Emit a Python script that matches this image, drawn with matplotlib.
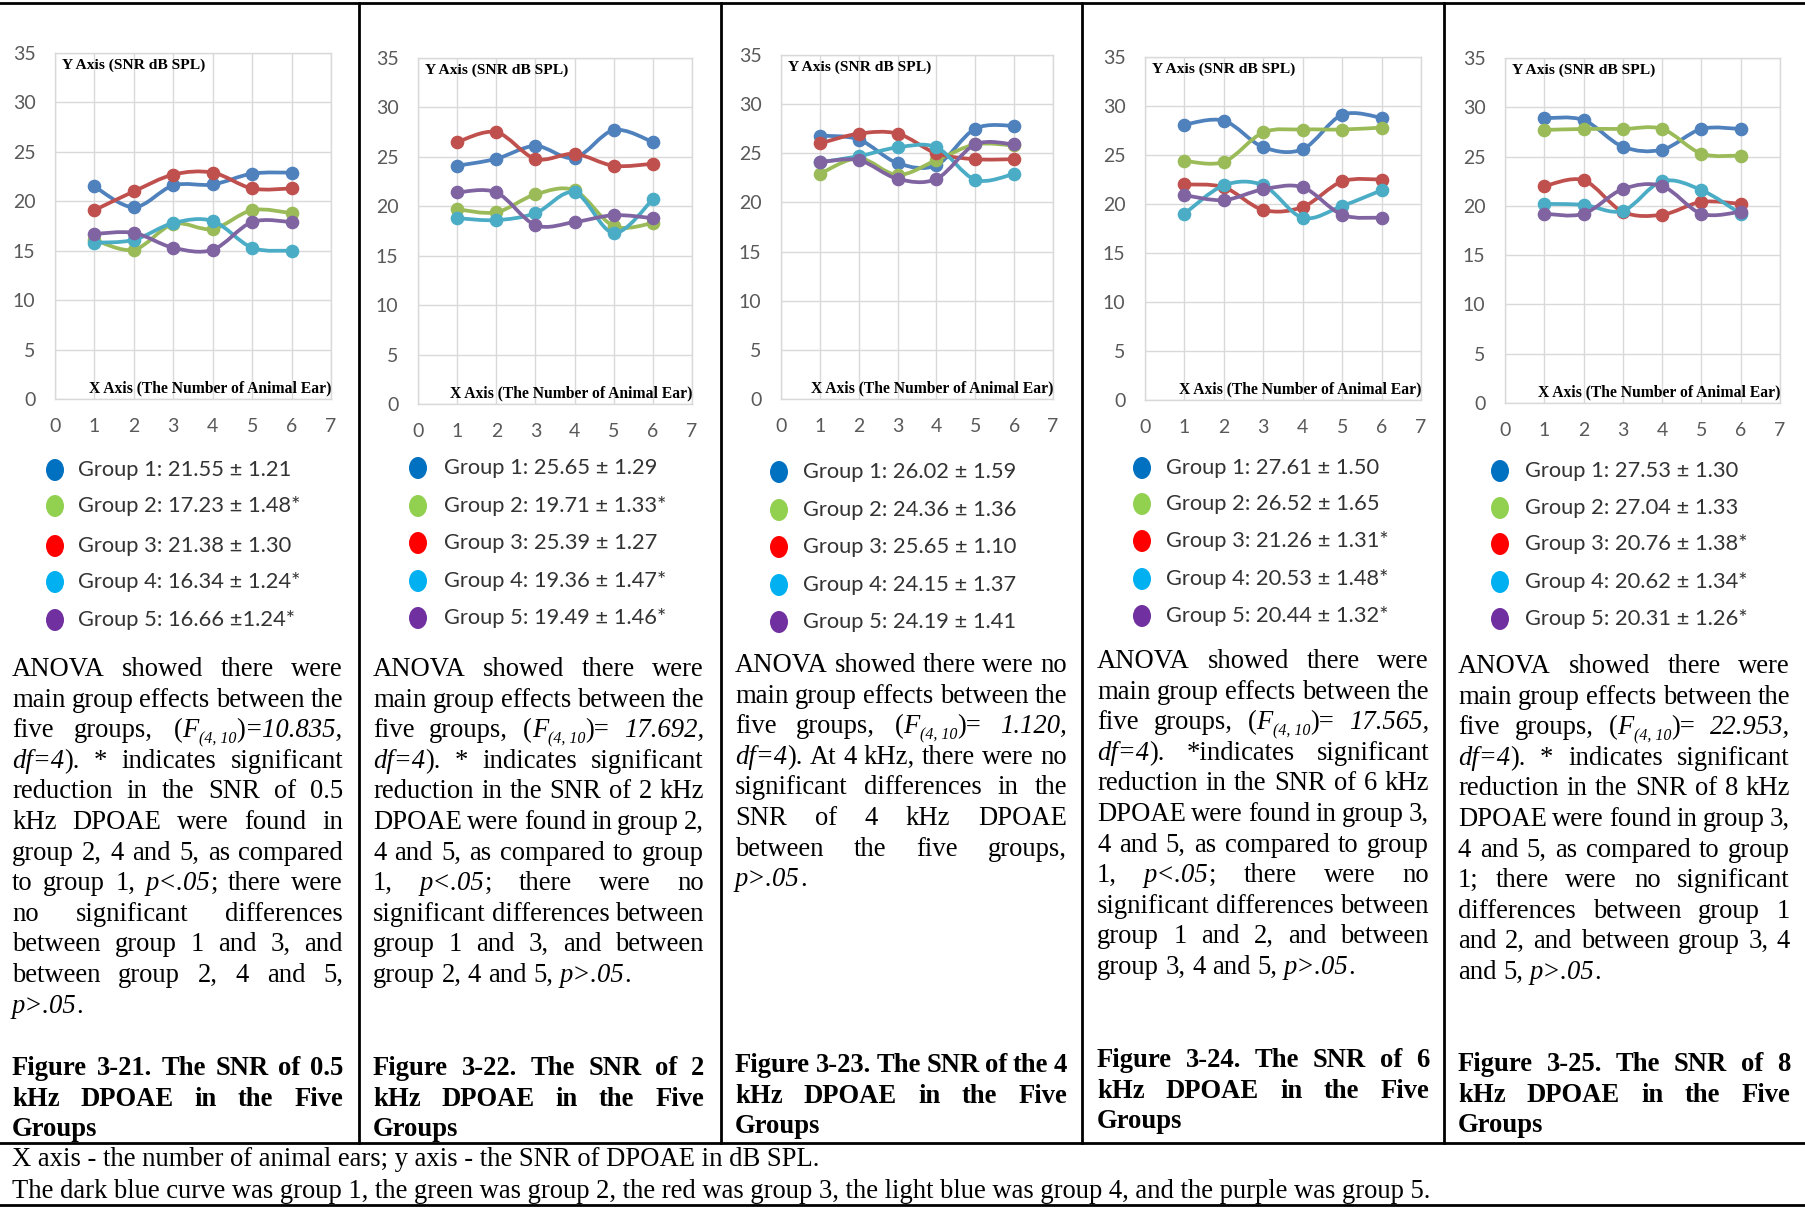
import matplotlib
matplotlib.use('Agg')
import matplotlib.pyplot as plt
from matplotlib.patches import Ellipse, PathPatch
from matplotlib.path import Path
from matplotlib.lines import Line2D
import numpy as np

# ---------------- data ----------------
ears = [1, 2, 3, 4, 5, 6]
x_ticks = [0, 1, 2, 3, 4, 5, 6, 7]
y_ticks = [0, 5, 10, 15, 20, 25, 30, 35]

# 0.5 kHz
k05_g1 = [21.5, 19.4, 21.6, 21.7, 22.8, 22.9]
k05_g2 = [16.1, 15.1, 17.7, 17.2, 19.1, 18.8]
k05_g3 = [19.1, 21.0, 22.7, 22.9, 21.3, 21.3]
k05_g4 = [15.8, 16.1, 17.8, 18.0, 15.3, 15.0]
k05_g5 = [16.7, 16.8, 15.3, 15.1, 17.9, 17.9]
# 2 kHz
k2_g1 = [24.1, 24.8, 26.1, 24.9, 27.7, 26.5]
k2_g2 = [19.7, 19.4, 21.2, 21.6, 18.0, 18.3]
k2_g3 = [26.5, 27.5, 24.8, 25.3, 24.1, 24.3]
k2_g4 = [18.8, 18.6, 19.3, 21.4, 17.3, 20.7]
k2_g5 = [21.4, 21.4, 18.1, 18.4, 19.1, 18.8]
# 4 kHz
k4_g1 = [26.8, 26.4, 24.0, 23.8, 27.5, 27.8]
k4_g2 = [22.9, 24.5, 22.8, 24.3, 25.9, 25.8]
k4_g3 = [26.0, 27.0, 27.0, 25.0, 24.4, 24.4]
k4_g4 = [24.1, 24.7, 25.6, 25.6, 22.3, 22.9]
k4_g5 = [24.1, 24.3, 22.4, 22.4, 25.9, 25.9]
# 6 kHz
k6_g1 = [28.1, 28.5, 25.8, 25.6, 29.1, 28.8]
k6_g2 = [24.4, 24.3, 27.3, 27.6, 27.6, 27.8]
k6_g3 = [22.0, 21.7, 19.4, 19.7, 22.3, 22.5]
k6_g4 = [19.0, 21.9, 21.9, 18.6, 19.8, 21.4]
k6_g5 = [20.9, 20.4, 21.5, 21.7, 18.9, 18.6]
# 8 kHz
k8_g1 = [28.9, 28.7, 26.0, 25.7, 27.8, 27.8]
k8_g2 = [27.7, 27.8, 27.8, 27.8, 25.3, 25.1]
k8_g3 = [22.0, 22.6, 19.4, 19.1, 20.4, 20.2]
k8_g4 = [20.2, 20.1, 19.5, 22.5, 21.6, 19.2]
k8_g5 = [19.2, 19.2, 21.7, 22.0, 19.2, 19.4]

leg_05k = ["Group 1: 21.55 \u00b1 1.21", "Group 2: 17.23 \u00b1 1.48*", "Group 3: 21.38 \u00b1 1.30",
           "Group 4: 16.34 \u00b1 1.24*", "Group 5: 16.66 \u00b11.24*"]
leg_2k = ["Group 1: 25.65 \u00b1 1.29", "Group 2: 19.71 \u00b1 1.33*", "Group 3: 25.39 \u00b1 1.27",
          "Group 4: 19.36 \u00b1 1.47*", "Group 5: 19.49 \u00b1 1.46*"]
leg_4k = ["Group 1: 26.02 \u00b1 1.59", "Group 2: 24.36 \u00b1 1.36", "Group 3: 25.65 \u00b1 1.10",
          "Group 4: 24.15 \u00b1 1.37", "Group 5: 24.19 \u00b1 1.41"]
leg_6k = ["Group 1: 27.61 \u00b1 1.50", "Group 2: 26.52 \u00b1 1.65", "Group 3: 21.26 \u00b1 1.31*",
          "Group 4: 20.53 \u00b1 1.48*", "Group 5: 20.44 \u00b1 1.32*"]
leg_8k = ["Group 1: 27.53 \u00b1 1.30", "Group 2: 27.04 \u00b1 1.33", "Group 3: 20.76 \u00b1 1.38*",
          "Group 4: 20.62 \u00b1 1.34*", "Group 5: 20.31 \u00b1 1.26*"]

NB = "\u00a0"
txt_05k = ["ANOVA showed there were", "main group effects between the",
           "five groups, (_F_~(4," + NB + "10~)_=10.835,_", "_df=4_). * indicates significant",
           "reduction in the SNR of 0.5", "kHz DPOAE were found in", "group 2, 4 and 5, as compared",
           "to group 1, _p<.05_; there were", "no significant differences",
           "between group 1 and 3, and", "between group 2, 4 and 5,", "_p>.05_."]
txt_2k = ["ANOVA showed there were", "main group effects between the",
          "five groups, (_F_~(4," + NB + "10~)= _17.692,_", "_df=4_). * indicates significant",
          "reduction in the SNR of 2 kHz", "DPOAE were found in group 2,", "4 and 5, as compared to group",
          "1, _p<.05_; there were no", "significant differences between", "group 1 and 3, and between",
          "group 2, 4 and 5, _p>.05_."]
txt_4k = ["ANOVA showed there were no", "main group effects between the",
          "five groups, (_F_~(4," + NB + "10~)= _1.120,_", "_df=4_). At 4 kHz, there were no",
          "significant differences in the", "SNR of 4 kHz DPOAE", "between the five groups,", "_p>.05_."]
txt_6k = ["ANOVA showed there were", "main group effects between the",
          "five groups, (_F_~(4," + NB + "10~)= _17.565,_", "_df=4_). *indicates significant",
          "reduction in the SNR of 6 kHz", "DPOAE were found in group 3,", "4 and 5, as compared to group",
          "1, _p<.05_; there were no", "significant differences between", "group 1 and 2, and between",
          "group 3, 4 and 5, _p>.05_."]
txt_8k = ["ANOVA showed there were", "main group effects between the",
          "five groups, (_F_~(4," + NB + "10~)= _22.953,_", "_df=4_). * indicates significant",
          "reduction in the SNR of 8 kHz", "DPOAE were found in group 3,", "4 and 5, as compared to group",
          "1; there were no significant", "differences between group 1", "and 2, and between group 3, 4",
          "and 5, _p>.05_."]

cap_05k = ["Figure 3-21. The SNR of 0.5", "kHz DPOAE in the Five", "Groups"]
cap_2k = ["Figure 3-22. The SNR of 2", "kHz DPOAE in the Five", "Groups"]
cap_4k = ["Figure 3-23. The SNR of the 4", "kHz DPOAE in the Five", "Groups"]
cap_6k = ["Figure 3-24. The SNR of 6", "kHz DPOAE in the Five", "Groups"]
cap_8k = ["Figure 3-25. The SNR of 8", "kHz DPOAE in the Five", "Groups"]

notes = ["X axis - the number of animal ears; y axis - the SNR of DPOAE in dB SPL.",
         "The dark blue curve was group 1, the green was group 2, the red was group 3, "
         "the light blue was group 4, and the purple was group 5."]

line_colors = ['#4F81BD', '#9BBB59', '#C0504D', '#4BACC6', '#8064A2']
dot_colors = ['#0070C0', '#92D050', '#FF0000', '#00B0F0', '#7030A0']

# ---------------- layout ----------------
W, H = 1805, 1208
DPI = 100
fig = plt.figure(figsize=(W / DPI, H / DPI), dpi=DPI)
fig.patch.set_facecolor('white')
renderer = fig.canvas.get_renderer()


def fx(x):
    return x / W


def fy(y):
    return 1 - y / H


def measure(s, **kw):
    t = fig.text(0, 0, s, **kw)
    w = t.get_window_extent(renderer).width
    t.remove()
    return w


def fit_size(s, target, **kw):
    w = measure(s, fontsize=10, **kw)
    return 10 * target / w


SERIF = 'Liberation Serif'
SANS = 'Lato'

fs_body = fit_size(notes[1], 1422, family=SERIF)
fs_leg = fit_size(leg_05k[0], 214, family=SANS)
fs_ylab = fit_size("Y Axis (SNR dB SPL)", 143, family=SERIF, weight='bold')
fs_xlab = fit_size("X Axis (The Number of Animal Ear)", 243, family=SERIF, weight='bold')


def parse_word(word):
    runs = []
    cur = ''
    st = 'n'
    italic = False
    sub = False
    for ch in word:
        if ch in '_~':
            if cur:
                runs.append((cur, st))
            cur = ''
            if ch == '_':
                italic = not italic
            else:
                sub = not sub
            st = 's' if sub else ('i' if italic else 'n')
        else:
            cur += ch
    if cur:
        runs.append((cur, st))
    return runs


def run_kw(st, fs, bold):
    kw = dict(family=SERIF, fontsize=fs, color='black')
    if bold:
        kw['weight'] = 'bold'
    if st == 'i':
        kw['style'] = 'italic'
    if st == 's':
        kw['style'] = 'italic'
        kw['fontsize'] = fs * 0.6
    return kw


def word_width(runs, fs, bold):
    return sum(measure(t, **run_kw(st, fs, bold)) for t, st in runs)


def draw_line(line, x0, x1, base, fs, bold=False, justify=True):
    words = [parse_word(w) for w in line.split(' ')]
    avail = x1 - x0
    wt = 'bold' if bold else 'normal'
    space = measure('a a', family=SERIF, fontsize=fs, weight=wt) - \
        measure('aa', family=SERIF, fontsize=fs, weight=wt)
    widths = [word_width(r, fs, bold) for r in words]
    n = len(words)
    tot = sum(widths)
    if justify and n > 1:
        if tot + (n - 1) * space * 0.7 > avail:
            fs = fs * (avail - (n - 1) * space * 0.7) / tot
            widths = [word_width(r, fs, bold) for r in words]
            tot = sum(widths)
        gap = (avail - tot) / (n - 1)
    else:
        gap = space
    x = x0
    for runs, w in zip(words, widths):
        xx = x
        for t, st in runs:
            kw = run_kw(st, fs, bold)
            off = 0.22 * fs * DPI / 72 if st == 's' else 0
            fig.text(fx(xx), fy(base + off), t, ha='left', va='baseline', **kw)
            xx += measure(t, **kw)
        x += w + gap


def draw_para(lines, x0, x1, base0, step, fs, bold=False):
    for i, ln in enumerate(lines):
        draw_line(ln, x0, x1, base0 + i * step, fs, bold=bold, justify=(i < len(lines) - 1))


def smooth_path(xs, ys):
    pts = np.column_stack([xs, ys]).astype(float)
    verts = [pts[0]]
    codes = [Path.MOVETO]
    n = len(pts)
    for i in range(n - 1):
        p0 = pts[i - 1] if i > 0 else pts[i]
        p1 = pts[i]
        p2 = pts[i + 1]
        p3 = pts[i + 2] if i + 2 < n else pts[i + 1]
        verts += [p1 + (p2 - p0) / 6.0, p2 - (p3 - p1) / 6.0, p2]
        codes += [Path.CURVE4] * 3
    return Path(verts, codes)


panels = [
    dict(series=[k05_g1, k05_g2, k05_g3, k05_g4, k05_g5], legend=leg_05k, text=txt_05k, cap=cap_05k,
         ax=(55, 331, 53, 399), dotx=55, legx=78, rows=[470, 506, 546, 582, 620],
         tx=(12, 343), tb=676, cb=1075),
    dict(series=[k2_g1, k2_g2, k2_g3, k2_g4, k2_g5], legend=leg_2k, text=txt_2k, cap=cap_2k,
         ax=(418, 692, 58, 404), dotx=418, legx=444, rows=[468, 506, 543, 581, 618],
         tx=(373, 704), tb=676, cb=1075),
    dict(series=[k4_g1, k4_g2, k4_g3, k4_g4, k4_g5], legend=leg_4k, text=txt_4k, cap=cap_4k,
         ax=(781, 1053, 55, 399), dotx=779, legx=803, rows=[472, 510, 547, 585, 622],
         tx=(735, 1067), tb=672, cb=1072),
    dict(series=[k6_g1, k6_g2, k6_g3, k6_g4, k6_g5], legend=leg_6k, text=txt_6k, cap=cap_6k,
         ax=(1145, 1421, 57, 400), dotx=1142, legx=1166, rows=[468, 504, 541, 579, 616],
         tx=(1097, 1429), tb=668, cb=1067),
    dict(series=[k8_g1, k8_g2, k8_g3, k8_g4, k8_g5], legend=leg_8k, text=txt_8k, cap=cap_8k,
         ax=(1505, 1780, 58, 403), dotx=1500, legx=1525, rows=[471, 508, 544, 582, 619],
         tx=(1458, 1790), tb=673, cb=1071),
]

STEP = 30.6

for p in panels:
    l, r, t, b = p['ax']
    ax = fig.add_axes([fx(l), fy(b), (r - l) / W, (b - t) / H])
    ax.set_xlim(0, 7)
    ax.set_ylim(0, 35)
    ax.set_xticks(x_ticks)
    ax.set_yticks(y_ticks)
    ax.grid(True, color='#D9D9D9', lw=1.0)
    ax.set_axisbelow(True)
    for sp in ax.spines.values():
        sp.set_color('#D9D9D9')
        sp.set_linewidth(1.0)
    ax.tick_params(axis='both', length=0, labelsize=14, labelcolor='#595959')
    ax.tick_params(axis='y', pad=14)
    ax.tick_params(axis='x', pad=14)
    for lab in ax.get_xticklabels() + ax.get_yticklabels():
        lab.set_family(SANS)
    for i, (ys, c) in enumerate(zip(p['series'], line_colors)):
        ax.add_patch(PathPatch(smooth_path(ears, ys), fill=False, edgecolor=c, lw=2.7,
                               capstyle='round', joinstyle='round', zorder=3 + i * 0.1))
        ax.plot(ears, ys, 'o', color=c, ms=8.8, mec=c, zorder=3.05 + i * 0.1, clip_on=False)
    ax.text(7 / (r - l), 1 - 12 / (b - t), "Y Axis (SNR dB SPL)", transform=ax.transAxes,
            ha='left', va='center', family=SERIF, weight='bold', fontsize=fs_ylab, zorder=6)
    ax.text(1.0, 11 / (b - t), "X Axis (The Number of Animal Ear)", transform=ax.transAxes,
            ha='right', va='center', family=SERIF, weight='bold', fontsize=fs_xlab, zorder=6)

    # legend
    for ry, c, s in zip(p['rows'], dot_colors, p['legend']):
        fig.add_artist(Ellipse((fx(p['dotx']), fy(ry)), 18 / W, 22 / H, transform=fig.transFigure,
                               facecolor=c, edgecolor='none'))
        fig.text(fx(p['legx']), fy(ry), s, ha='left', va='center', family=SANS,
                 fontsize=fs_leg, color='#333333')

    # paragraph and caption
    x0, x1 = p['tx']
    draw_para(p['text'], x0, x1, p['tb'], STEP, fs_body)
    draw_para(p['cap'], x0, x1, p['cb'], STEP, fs_body, bold=True)

# notes
fig.text(fx(12), fy(1166), notes[0], ha='left', va='baseline', family=SERIF, fontsize=fs_body)
fig.text(fx(12), fy(1198), notes[1], ha='left', va='baseline', family=SERIF, fontsize=fs_body)

# table borders
LW = 2.0
for yy in (3, 1143, 1205):
    fig.add_artist(Line2D([0, 1], [fy(yy), fy(yy)], transform=fig.transFigure, color='black', lw=LW))
for xx in (359, 720.5, 1082, 1443.5):
    fig.add_artist(Line2D([fx(xx), fx(xx)], [fy(3), fy(1143)], transform=fig.transFigure,
                          color='black', lw=LW))

fig.savefig('out.png', dpi=DPI, facecolor='white')
